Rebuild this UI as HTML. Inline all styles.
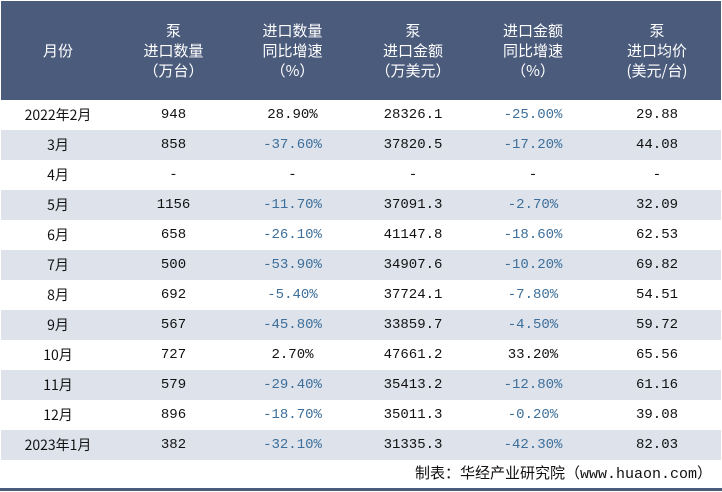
<!DOCTYPE html>
<html><head><meta charset="utf-8"><style>
body{margin:0;width:722px;height:492px;background:#fff;font-family:"Liberation Mono","Noto Sans CJK SC",monospace;overflow:hidden;position:relative}
table{position:absolute;left:1px;top:1px;width:720px;border-collapse:collapse;table-layout:fixed}
th{background:#4b5b7c;color:#fff;font-weight:normal;font-size:15px;line-height:20px;height:99px;font-family:"Noto Sans CJK SC",sans-serif;padding:0}
td{height:30px;padding:0;text-align:center;font-size:14px;color:#111}
tr.g td{background:#dde2eb}
td.n{color:#3d6f9a}
.foot{position:absolute;right:10px;top:462px;font-size:15px;color:#111}
.line{position:absolute;left:0;top:488px;width:722px;height:3px;background:#4b5b7c}
</style></head><body>
<table>
<colgroup><col style="width:114px"><col style="width:117px"><col style="width:121px"><col style="width:120px"><col style="width:120px"><col style="width:128px"></colgroup>
<thead><tr>
<th>月份</th>
<th>泵<br>进口数量<br>（万台）</th>
<th>进口数量<br>同比增速<br>（%）</th>
<th>泵<br>进口金额<br>（万美元）</th>
<th>进口金额<br>同比增速<br>（%）</th>
<th>泵<br>进口均价<br>(美元/台)</th>
</tr></thead>
<tbody id="tb"></tbody>
</table>
<div class="foot">制表：华经产业研究院（www.huaon.com）</div>
<div class="line"></div>
<script>
const months=["2022年2月","3月","4月","5月","6月","7月","8月","9月","10月","11月","12月","2023年1月"];
const qty=["948","858","-","1156","658","500","692","567","727","579","896","382"];
const qtyYoy=["28.90%","-37.60%","-","-11.70%","-26.10%","-53.90%","-5.40%","-45.80%","2.70%","-29.40%","-18.70%","-32.10%"];
const amount=["28326.1","37820.5","-","37091.3","41147.8","34907.6","37724.1","33859.7","47661.2","35413.2","35011.3","31335.3"];
const amountYoy=["-25.00%","-17.20%","-","-2.70%","-18.60%","-10.20%","-7.80%","-4.50%","33.20%","-12.80%","-0.20%","-42.30%"];
const price=["29.88","44.08","-","32.09","62.53","69.82","54.51","59.72","65.56","61.16","39.08","82.03"];
const tb=document.getElementById('tb');
months.forEach((m,i)=>{
  const tr=document.createElement('tr');
  
  
  if(i%2===1)tr.className='g';
  [m,qty[i],qtyYoy[i],amount[i],amountYoy[i],price[i]].forEach((v,j)=>{
    const td=document.createElement('td');
    
    
    td.textContent=v;
    if(j===0)td.style.fontFamily='"Noto Sans CJK SC",sans-serif';
    if(v.startsWith('-')&&v.length>1)td.className='n';
    tr.appendChild(td);
  });
  tb.appendChild(tr);
});
</script>
</body></html>
